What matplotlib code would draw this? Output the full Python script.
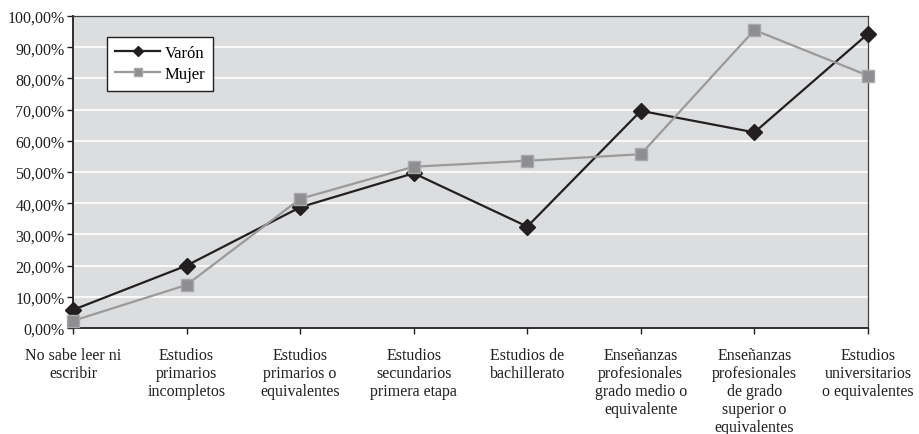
import numpy as np
import matplotlib.pyplot as plt
from matplotlib.ticker import FuncFormatter

# Categories (wrapped as in the original)
categories = [
    'No sabe leer ni\nescribir',
    'Estudios\nprimarios\nincompletos',
    'Estudios\nprimarios o\nequivalentes',
    'Estudios\nsecundarios\nprimera etapa',
    'Estudios de\nbachillerato',
    'Enseñanzas\nprofesionales\ngrado medio o\nequivalente',
    'Enseñanzas\nprofesionales\nde grado\nsuperior o\nequivalentes',
    'Estudios\nuniversitarios\no equivalentes',
]

varon = [5.8, 20.0, 38.7, 49.6, 32.5, 69.6, 62.7, 94.3]
mujer = [2.3, 13.8, 41.4, 51.7, 53.6, 55.7, 95.5, 80.9]

plt.rcParams['font.family'] = ['Liberation Serif', 'DejaVu Serif']

fig = plt.figure(figsize=(9.19, 4.35), dpi=100)
ax = fig.add_axes([73 / 919, 1 - 329 / 435, (868 - 73) / 919, (329 - 17) / 435])

x = np.arange(len(categories))
ax.set_facecolor('#dcdddf')
ax.grid(axis='y', color='white', linewidth=1.2)
ax.set_axisbelow(True)

ax.plot(x, varon, color='#231f20', linewidth=1.6, marker='D', markersize=8,
        markerfacecolor='#231f20', markeredgecolor='#231f20', label='Varón',
        clip_on=False, zorder=3)
ax.plot(x, mujer, color='#9a9a9a', linewidth=1.6, marker='s', markersize=8.5,
        markerfacecolor='#8e8e90', markeredgecolor='#a8a8aa', label='Mujer',
        clip_on=False, zorder=3)

ax.set_xlim(0, len(categories) - 1)
ax.set_ylim(0, 100)
ax.set_yticks(np.arange(0, 101, 10))
ax.yaxis.set_major_formatter(FuncFormatter(lambda v, p: f'{v:.2f}%'.replace('.', ',')))
ax.set_xticks(x)
ax.set_xticklabels(categories, fontsize=11.5, linespacing=1.15)

ax.tick_params(axis='y', direction='out', length=4, width=1, labelsize=11.5, pad=2, colors='#231f20')
ax.tick_params(axis='x', direction='out', length=4, width=1, pad=10, colors='#231f20')

for side in ['left', 'bottom']:
    ax.spines[side].set_linewidth(1.3)
    ax.spines[side].set_color('#231f20')
for side in ['top', 'right']:
    ax.spines[side].set_linewidth(0.9)
    ax.spines[side].set_color('#444444')

leg = ax.legend(loc='upper left', bbox_to_anchor=(34 / 795, 1 - 21 / 312),
                borderaxespad=0, fontsize=12, handlelength=2.7,
                handletextpad=0.25, borderpad=0.5, labelspacing=0.3,
                markerscale=0.7, fancybox=False, framealpha=1,
                edgecolor='#231f20', facecolor='white')
leg.get_frame().set_linewidth(1.0)

fig.savefig('out.png', dpi=100)
